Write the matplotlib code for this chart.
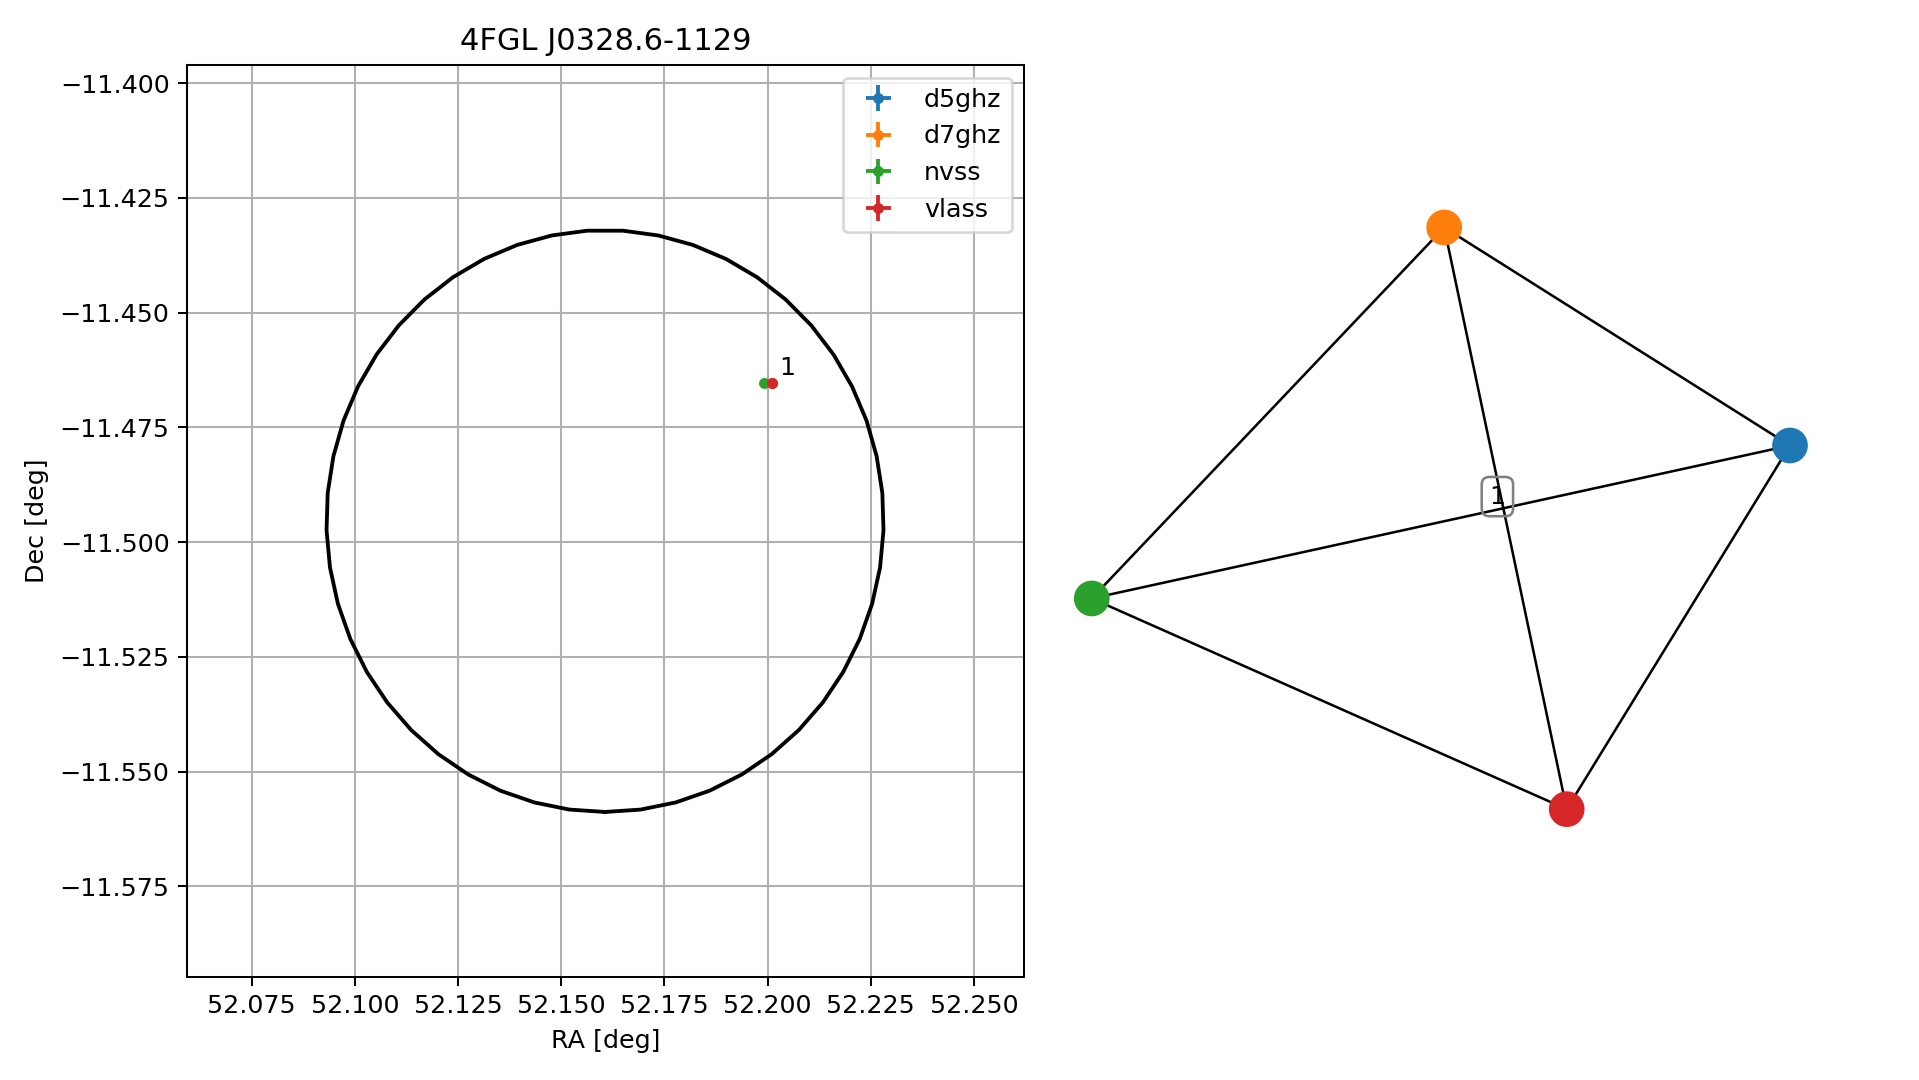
import numpy as np
import matplotlib
matplotlib.use("Agg")
import matplotlib.pyplot as plt

# ---------------- data ----------------
title = "4FGL J0328.6-1129"
surveys = ["d5ghz", "d7ghz", "nvss", "vlass"]
colors = ["#1f77b4", "#ff7f0e", "#2ca02c", "#d62728"]
src_ra = [52.2010, 52.2010, 52.1991, 52.2010]
src_dec = [-11.4654, -11.4654, -11.4654, -11.4654]
src_ra_err = [0.0002, 0.0002, 0.0002, 0.0001]
src_dec_err = [0.0002, 0.0002, 0.0002, 0.0001]
group_label = "1"
group_label_ra = 52.2027
group_label_dec = -11.4647

ell_ra0 = 52.1606
ell_dec0 = -11.4954
ell_a = 0.0675   # RA semi-axis [deg]
ell_b = 0.0634   # Dec semi-axis [deg]

xlim = (52.0594, 52.2622)
ylim = (-11.5947, -11.3960)
xticks = [52.075, 52.100, 52.125, 52.150, 52.175, 52.200, 52.225, 52.250]
yticks = [-11.400, -11.425, -11.450, -11.475, -11.500, -11.525, -11.550, -11.575]

# graph layout (right panel)
node_x = [1.000, 0.012, -0.995, 0.362]
node_y = [0.210, 0.833, -0.227, -0.829]
edges = [(0, 1), (0, 2), (0, 3), (1, 2), (1, 3), (2, 3)]
edge_label = "1"
edge_label_x = 0.164
edge_label_y = 0.064

# ---------------- figure ----------------
DPI = 183
fig = plt.figure(figsize=(1919 / DPI, 1080 / DPI), dpi=DPI)

W, H = 1919, 1080
ax1 = fig.add_axes([187.3 / W, 1 - 976.7 / H, (1024.4 - 187.3) / W, (976.7 - 64.9) / H])

t = -np.pi / 2 + 2 * np.pi * np.arange(50) / 49
ax1.plot(ell_ra0 + ell_a * np.cos(t), ell_dec0 + ell_b * np.sin(t), color="black", lw=1.5)

for name, c, ra, dec, er, ed in zip(surveys, colors, src_ra, src_dec, src_ra_err, src_dec_err):
    ax1.errorbar([ra], [dec], xerr=[er], yerr=[ed], fmt="o", ms=3.3, color=c, label=name)

ax1.text(group_label_ra, group_label_dec, group_label, fontsize=10, ha="left", va="bottom")

ax1.set_xlim(*xlim)
ax1.set_ylim(*ylim)
ax1.set_xticks(xticks)
ax1.set_yticks(yticks)
ax1.set_xticklabels([f"{v:.3f}" for v in xticks])
ax1.set_yticklabels([f"{v:.3f}".replace("-", "\u2212") for v in yticks])
ax1.grid(True)
ax1.set_xlabel("RA [deg]")
ax1.set_ylabel("Dec [deg]")
ax1.set_title(title)
ax1.legend(loc="upper right")

# right panel: graph
ax2 = fig.add_axes([1055 / W, 1 - 977 / H, 825 / W, 912 / H])
ax2.set_xlim((1055 - 1440) / 350, (1880 - 1440) / 350)
ax2.set_ylim(-(977 - 519) / 350, -(65 - 519) / 350)
ax2.axis("off")

for i, j in edges:
    ax2.plot([node_x[i], node_x[j]], [node_y[i], node_y[j]], color="black", lw=1.0, zorder=1)
ax2.scatter(node_x, node_y, s=170, c=colors, zorder=2)
ax2.text(edge_label_x, edge_label_y, edge_label, fontsize=10, ha="center", va="center", zorder=3,
         bbox=dict(boxstyle="round", fc="none", ec="gray", lw=1.0))

fig.savefig("out.png", dpi=DPI)
